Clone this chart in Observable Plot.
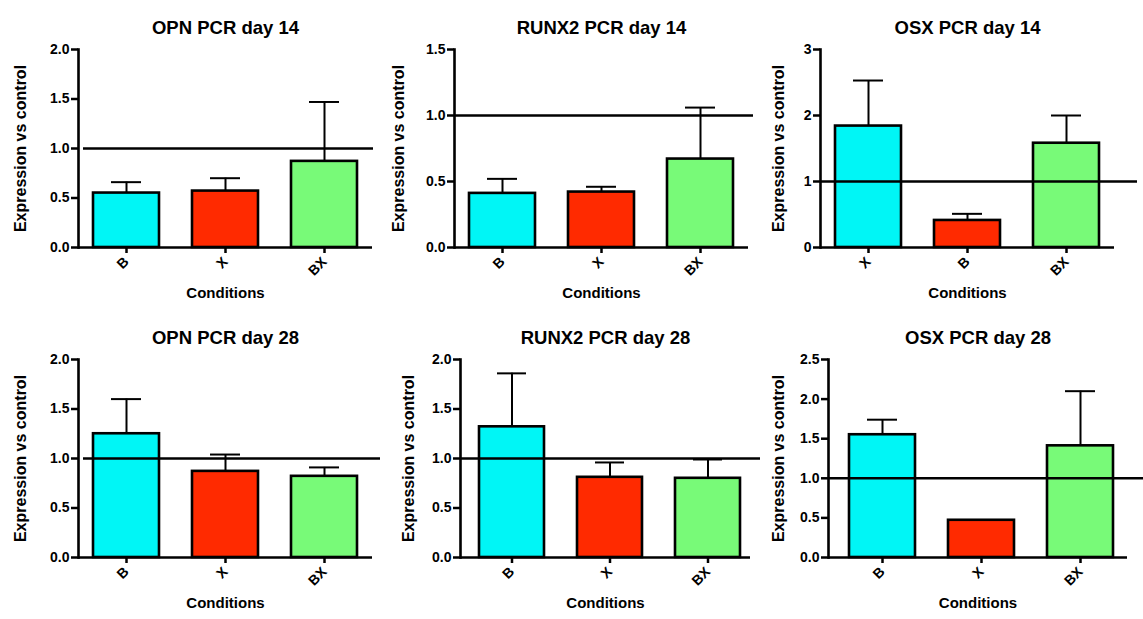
<!DOCTYPE html>
<html>
<head>
<meta charset="utf-8">
<script src="https://cdn.jsdelivr.net/npm/d3@7"></script>
<script src="https://cdn.jsdelivr.net/npm/@observablehq/plot@0.6"></script>
<style>
  html, body { margin: 0; padding: 0; background: #fff; }
  #root { position: relative; width: 1143px; height: 619px; background: #fff; overflow: hidden; }
  .panel { position: absolute; }
  .panel svg { overflow: visible; }
</style>
</head>
<body>
<div id="root"></div>
<script>
// ---- data ----
const panelTitles = ["OPN PCR day 14", "RUNX2 PCR day 14", "OSX PCR day 14",
                     "OPN PCR day 28", "RUNX2 PCR day 28", "OSX PCR day 28"];
const panelCategories = [["B","X","BX"], ["B","X","BX"], ["X","B","BX"],
                         ["B","X","BX"], ["B","X","BX"], ["B","X","BX"]];
const meanValues = [[0.55, 0.57, 0.87], [0.41, 0.42, 0.67], [1.84, 0.41, 1.58],
                    [1.25, 0.87, 0.82], [1.32, 0.81, 0.80], [1.55, 0.47, 1.41]];
const errorTops  = [[0.66, 0.70, 1.47], [0.52, 0.46, 1.06], [2.53, 0.51, 2.00],
                    [1.60, 1.04, 0.91], [1.86, 0.96, 0.99], [1.74, null, 2.10]];
const yMaxima = [2, 1.5, 3, 2, 2, 2.5];
const yTickValues = [[0,0.5,1,1.5,2], [0,0.5,1,1.5], [0,1,2,3],
                     [0,0.5,1,1.5,2], [0,0.5,1,1.5,2], [0,0.5,1,1.5,2,2.5]];
const yTickFormats = [".1f", ".1f", "d", ".1f", ".1f", ".1f"];
const referenceLevel = [1];
const xAxisLabel = "Conditions";
const yAxisLabel = "Expression vs control";

// ---- styles / layout ----
const barColors = ["#00f6f6", "#ff2a00", "#78fa78"];
const FONT = "'Liberation Sans', Arial, Helvetica, sans-serif";
const layout = [
  {left: 0,   top: 0,   w: 380, h: 310, ml: 78, end: 372, align: 0.5,  ref: [83, 373], ylab: 20},
  {left: 380, top: 0,   w: 380, h: 310, ml: 74, end: 368, align: 0.5,  ref: [74, 373], ylab: 18},
  {left: 760, top: 0,   w: 383, h: 310, ml: 60, end: 354, align: 0.5,  ref: [60, 377], ylab: 18},
  {left: 0,   top: 310, w: 380, h: 309, ml: 78, end: 372, align: 0.5,  ref: [83, 380], ylab: 20},
  {left: 380, top: 310, w: 380, h: 309, ml: 80, end: 370, align: 0.68, ref: [80, 380], ylab: 28},
  {left: 760, top: 310, w: 383, h: 309, ml: 68, end: 367, align: 0.6,  ref: [68, 383], ylab: 18}
];
const TOP = 49, ZERO = 247;
const root = document.getElementById("root");

panelTitles.forEach((title, p) => {
  const L = layout[p];
  const rows = panelCategories[p].map((c, i) => ({
    cat: c, value: meanValues[p][i], hi: errorTops[p][i], color: barColors[i]
  }));
  const errRows = rows.filter(d => d.hi != null);
  const range = L.end - L.ml;
  const pi = 0.333;
  const po = Math.max(0, (range / 99 - 3 + pi) / 2);

  const chart = Plot.plot({
    width: L.w,
    height: L.h,
    marginLeft: L.ml,
    marginRight: L.w - L.end,
    marginTop: TOP,
    marginBottom: L.h - ZERO,
    style: {fontFamily: FONT, fontWeight: "bold", fontSize: "14px", color: "#000", background: "#fff"},
    x: {domain: panelCategories[p], paddingInner: pi, paddingOuter: po, align: L.align, label: null, axis: null},
    y: {domain: [0, yMaxima[p]], label: null, axis: null},
    marks: [
      Plot.barY(rows, {x: "cat", y: "value", fill: "color", stroke: "#000", strokeWidth: 2.6}),
      Plot.ruleX(errRows, {x: "cat", y1: "value", y2: "hi", stroke: "#000", strokeWidth: 2}),
      Plot.tickY(errRows, {x: "cat", y: "hi", stroke: "#000", strokeWidth: 2, insetLeft: 18, insetRight: 18}),
      Plot.ruleY(referenceLevel, {stroke: "#000", strokeWidth: 2.6,
        insetLeft: L.ref[0] - L.ml, insetRight: L.end - L.ref[1]}),
      Plot.axisY({ticks: yTickValues[p], tickFormat: d3.format(yTickFormats[p]), tickSize: 7, tickPadding: 2,
        strokeWidth: 2.5, fontSize: 14, fontWeight: "bold", label: null}),
      Plot.axisX({tickRotate: -45, tickSize: 6, tickPadding: 6, strokeWidth: 2.5, fontSize: 14, fontWeight: "bold", label: null}),
      Plot.ruleY([0], {stroke: "#000", strokeWidth: 2.6}),
      Plot.frame({anchor: "left", stroke: "#000", strokeWidth: 2.6}),
      Plot.text([title], {frameAnchor: "top", dy: -(TOP - 20), fontSize: 18.5, fontWeight: "bold", fill: "#000"}),
      Plot.text([xAxisLabel], {frameAnchor: "bottom", dy: 50, fontSize: 15, fontWeight: "bold", fill: "#000"}),
      Plot.text([yAxisLabel], {frameAnchor: "left", textAnchor: "middle", rotate: -90, dx: L.ylab - L.ml,
        fontSize: 16, fontWeight: "bold", fill: "#000"})
    ]
  });
  const div = document.createElement("div");
  div.className = "panel";
  div.style.left = L.left + "px";
  div.style.top = L.top + "px";
  div.appendChild(chart);
  root.appendChild(div);
});
</script>
</body>
</html>
